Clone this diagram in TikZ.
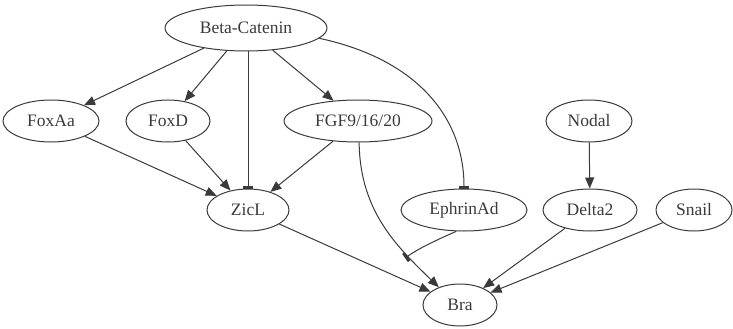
\documentclass[tikz,border=0pt]{standalone}
\usepackage{fontspec}
\setmainfont{Liberation Serif}
\usetikzlibrary{shapes.geometric,arrows.meta}
\definecolor{ln}{HTML}{3A3A3A}
\begin{document}
\begin{tikzpicture}[x=1pt,y=-1pt,
 gene/.style={ellipse, draw=ln, line width=1pt, inner sep=0pt, text=ln, font=\fontsize{17.5}{17.5}\selectfont},
 act/.style={draw=ln, line width=1pt, -{Triangle[length=11pt,width=9pt]}},
 inh/.style={draw=ln, line width=1pt, -{Bar[width=10pt,line width=3pt]}}]
\useasboundingbox (0,0) rectangle (733,329);
\node[gene, minimum width=162pt, minimum height=46pt] (beta) at (246,28) {Beta-Catenin};
\node[gene, minimum width=96pt, minimum height=42pt] (foxaa) at (51,121) {FoxAa};
\node[gene, minimum width=84pt, minimum height=42pt] (foxd) at (168,121) {FoxD};
\node[gene, minimum width=148pt, minimum height=42pt] (fgf) at (358,121) {FGF9/16/20};
\node[gene, minimum width=86pt, minimum height=42pt] (nodal) at (589,121) {Nodal};
\node[gene, minimum width=82pt, minimum height=42pt] (zicl) at (248,210) {ZicL};
\node[gene, minimum width=126pt, minimum height=42pt] (eph) at (464,210) {EphrinAd};
\node[gene, minimum width=94pt, minimum height=42pt] (delta) at (590,210) {Delta2};
\node[gene, minimum width=76pt, minimum height=42pt] (snail) at (694,210) {Snail};
\node[gene, minimum width=74pt, minimum height=42pt] (bra) at (460,305) {Bra};
\coordinate (tee) at (405,258);
% edges
\draw[act] (beta) -- (foxaa);
\draw[act] (beta) -- (foxd);
\draw[inh] (beta.south -| zicl.north) -- (zicl.north);
\draw[act] (beta) -- (fgf);
\draw[inh] (beta.-8) .. controls (420,60) and (464,120) .. (eph.north);
\draw[act] (foxaa) -- (zicl);
\draw[act] (foxd) -- (zicl);
\draw[act] (fgf) -- (zicl);
\draw[act] (fgf.-87) .. controls (360,210) and (395,245) .. (bra.140);
\draw[act] (nodal) -- (delta);
\draw[act] (zicl) -- (bra);
\draw[inh] (eph.-110) .. controls (432,242) and (418,249) .. (tee);
\draw[act] (delta) -- (bra);
\draw[act] (snail) -- (bra);
\end{tikzpicture}
\end{document}
